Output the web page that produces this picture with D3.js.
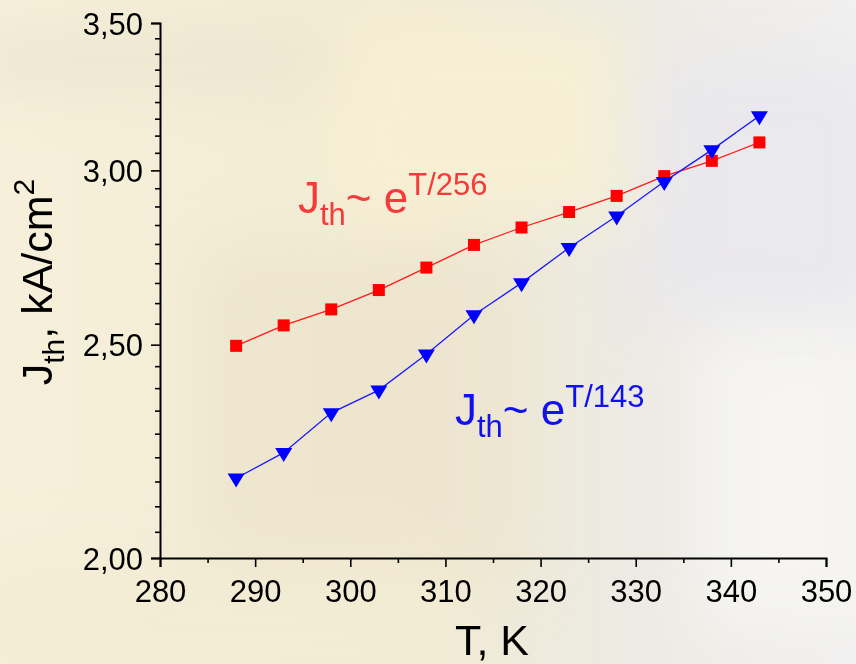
<!DOCTYPE html>
<html>
<head>
<meta charset="utf-8">
<script src="https://cdn.jsdelivr.net/npm/d3@7"></script>
<style>
  html, body { margin: 0; padding: 0; background: #f4eed9; }
  svg { display: block; }
  text { font-family: "Liberation Sans", Arial, sans-serif; }
</style>
</head>
<body>
<svg id="chart" width="856" height="664"></svg>
<script>
// Threshold current density vs temperature
const temperatures = [288, 293, 298, 303, 308, 313, 318, 323, 328, 333, 338, 343];
const seriesRed  = [2.497, 2.551, 2.594, 2.647, 2.710, 2.775, 2.826, 2.872, 2.921, 2.982, 3.030, 3.089];
const seriesBlue = [2.174, 2.233, 2.328, 2.384, 2.475, 2.579, 2.667, 2.767, 2.860, 2.965, 3.065, 3.176];
const xMajorTicks = [280, 290, 300, 310, 320, 330, 340, 350];
const yMajorTicks = [2.00, 2.50, 3.00, 3.50];

const svg = d3.select("#chart");
const W = 856, H = 664;

// soft, out-of-focus backdrop
const defs = svg.append("defs");
const bg = defs.append("linearGradient").attr("id", "bgGrad").attr("x1", 0).attr("x2", 1).attr("y1", 0).attr("y2", 0);
bg.append("stop").attr("offset", "0%").attr("stop-color", "#f6f0da");
bg.append("stop").attr("offset", "50%").attr("stop-color", "#f2ebd4");
bg.append("stop").attr("offset", "72%").attr("stop-color", "#eceae2");
bg.append("stop").attr("offset", "100%").attr("stop-color", "#f1f0f0");
defs.append("filter").attr("id", "soft").attr("x", "-50%").attr("y", "-50%").attr("width", "200%").attr("height", "200%")
  .append("feGaussianBlur").attr("stdDeviation", 30);

svg.append("rect").attr("width", W).attr("height", H).attr("fill", "url(#bgGrad)");
const haze = svg.append("g").attr("filter", "url(#soft)");
haze.append("rect").attr("x", -40).attr("y", 40).attr("width", 420).attr("height", 40).attr("fill", "#e6e0cc").attr("opacity", 0.7);
haze.append("rect").attr("x", 330).attr("y", 20).attr("width", 300).attr("height", 200).attr("fill", "#f7f0d3").attr("opacity", 0.8);
haze.append("rect").attr("x", 200).attr("y", 250).attr("width", 320).attr("height", 330).attr("fill", "#ebe3cc").attr("opacity", 0.7);
haze.append("rect").attr("x", 640).attr("y", 60).attr("width", 240).attr("height", 260).attr("fill", "#e9e8ec").attr("opacity", 0.9);
haze.append("rect").attr("x", 700).attr("y", 330).attr("width", 180).attr("height", 300).attr("fill", "#f6f5f2").attr("opacity", 0.9);
haze.append("rect").attr("x", -40).attr("y", 560).attr("width", 500).attr("height", 120).attr("fill", "#f3ecd5").attr("opacity", 0.8);

// scales
const x = d3.scaleLinear().domain([280, 350]).range([160, 826]);
const y = d3.scaleLog().domain([2.0, 3.5]).range([558, 23]);

// minor ticks: 8 evenly valued steps between each pair of labelled values
const yMinor = [];
for (let i = 0; i < yMajorTicks.length - 1; i++) {
  const a = yMajorTicks[i], b = yMajorTicks[i + 1];
  for (let k = 1; k < 9; k++) yMinor.push(a + (b - a) * k / 9);
}
const xMinor = d3.range(285, 350, 10);

const comma = d => d3.format(".2f")(d).replace(".", ",");

// axes
const axisColor = "#000";
const gx = svg.append("g").attr("transform", `translate(0,${y(2.0)})`);
gx.call(d3.axisBottom(x).tickValues(xMajorTicks).tickSize(9).tickPadding(6).tickFormat(d3.format("d")));
gx.append("g").call(d3.axisBottom(x).tickValues(xMinor).tickSize(5).tickFormat(""))
  .select(".domain").remove();

const gy = svg.append("g").attr("transform", `translate(${x(280)},0)`);
gy.call(d3.axisLeft(y).tickValues(yMajorTicks).tickSize(9).tickPadding(8).tickFormat(comma));
gy.append("g").call(d3.axisLeft(y).tickValues(yMinor).tickSize(5).tickFormat(""))
  .select(".domain").remove();

svg.selectAll(".domain").attr("stroke", axisColor).attr("stroke-width", 2);
svg.selectAll(".tick line").attr("stroke", axisColor).attr("stroke-width", 1.6);
svg.selectAll(".tick text").attr("fill", "#000").style("font-size", "31px")
  .style("font-family", "'Liberation Sans', Arial, sans-serif");
gx.selectAll(".tick text").attr("dy", "0.93em");
gy.selectAll(".tick text").attr("dy", "0.36em");

// series
const line = d3.line().x(d => x(d[0])).y(d => y(d[1]));
const redPts = temperatures.map((t, i) => [t, seriesRed[i]]);
const bluePts = temperatures.map((t, i) => [t, seriesBlue[i]]);

svg.append("path").datum(redPts).attr("d", line).attr("fill", "none").attr("stroke", "#ff1a1a").attr("stroke-width", 1.3);
svg.append("path").datum(bluePts).attr("d", line).attr("fill", "none").attr("stroke", "#1a1aff").attr("stroke-width", 1.3);

const sq = 12;
svg.append("g").selectAll("rect").data(redPts).join("rect")
  .attr("x", d => x(d[0]) - sq / 2).attr("y", d => y(d[1]) - sq / 2)
  .attr("width", sq).attr("height", sq).attr("fill", "#ff0000");

const tw = 17, th = 14;
svg.append("g").selectAll("path").data(bluePts).join("path")
  .attr("d", d => {
    const cx = x(d[0]), cy = y(d[1]);
    return `M${cx - tw / 2},${cy - th / 3}L${cx + tw / 2},${cy - th / 3}L${cx},${cy + 2 * th / 3}Z`;
  })
  .attr("fill", "#0000ff");

// fit annotations
function fitLabel(px, py, exponent, color) {
  const t = svg.append("text").attr("x", px).attr("y", py).attr("fill", color).style("font-size", "44px");
  t.append("tspan").text("J");
  t.append("tspan").text("th").style("font-size", "31px").attr("dy", 12);
  t.append("tspan").text("~ e").attr("dy", -12);
  t.append("tspan").text(exponent).style("font-size", "31px").attr("dy", -18);
}
fitLabel(298, 213, "T/256", "#f53a3a");
fitLabel(455, 425, "T/143", "#1010f0");

// axis titles
svg.append("text").attr("x", 492).attr("y", 655).attr("text-anchor", "middle")
  .style("font-size", "43px").attr("fill", "#000").text("T, K");

const yt = svg.append("text").attr("transform", "translate(52,282) rotate(-90)")
  .attr("text-anchor", "middle").style("font-size", "43px").attr("fill", "#000");
yt.append("tspan").text("J");
yt.append("tspan").text("th").style("font-size", "30px").attr("dy", 12);
yt.append("tspan").text(", kA/cm").attr("dy", -12);
yt.append("tspan").text("2").style("font-size", "30px").attr("dy", -18);
</script>
</body>
</html>
